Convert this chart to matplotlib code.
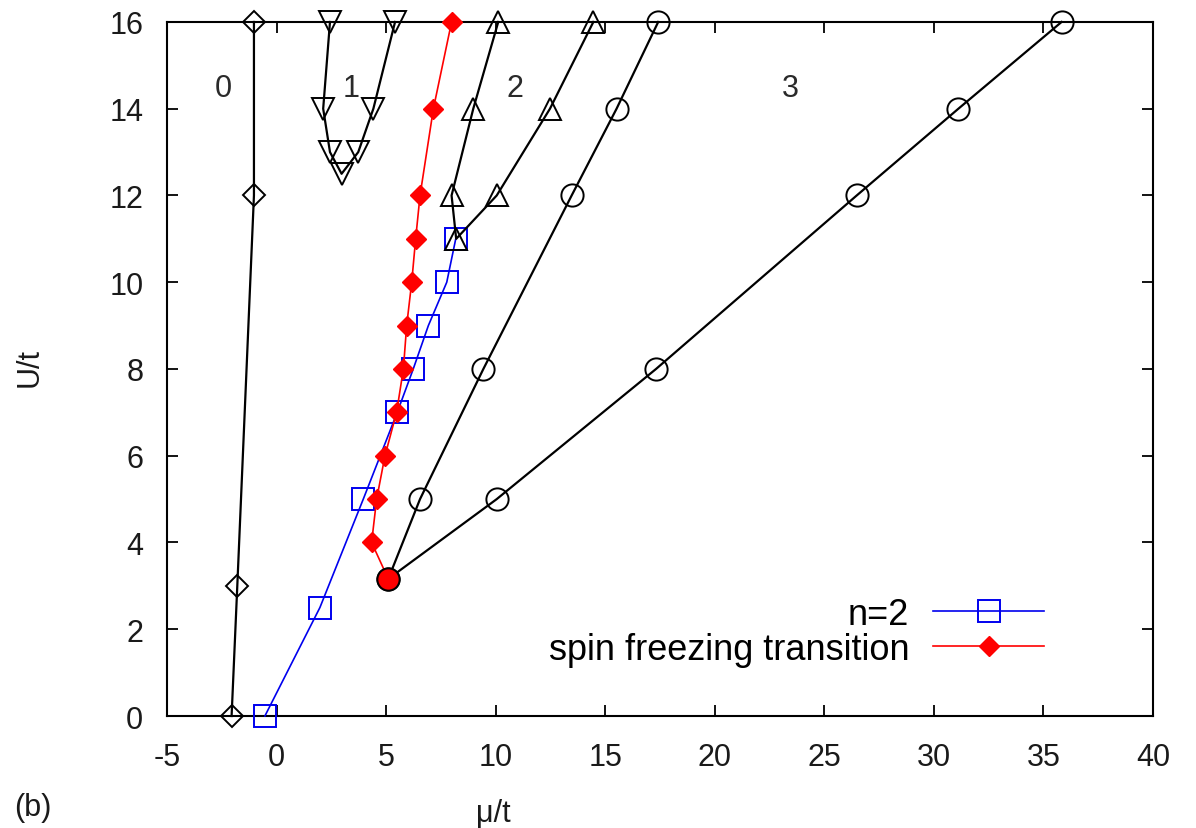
import matplotlib

matplotlib.use("Agg")
import matplotlib.pyplot as plt

plt.rcParams["font.family"] = ["Liberation Sans", "DejaVu Sans"]
plt.rcParams["axes.unicode_minus"] = False

# n=0 boundary (open diamonds)
mu_n0 = [-1.03, -1.03, -1.79, -2.05]
u_n0 = [16, 12, 3, 0]

# n=1 lobe (open down-triangles)
mu_n1 = [2.44, 2.13, 2.44, 2.97, 3.73, 4.42, 5.41]
u_n1 = [16, 14, 13, 12.5, 13, 14, 16]

# n=2 lobe above the blue line (open up-triangles)
mu_n2 = [10.12, 8.98, 7.99, 8.2, 10.05, 12.48, 14.46]
u_n2 = [16, 14, 12, 11, 12, 14, 16]

# n=3 region boundary (open circles)
mu_n3 = [17.42, 15.52, 13.47, 9.44, 6.55, 5.1, 10.05, 17.32, 26.48, 31.12, 35.83]
u_n3 = [16, 14, 12, 8, 5, 3.16, 5, 8, 12, 14, 16]

# n=2 line (blue squares)
mu_sq = [-0.53, 1.98, 3.96, 5.51, 6.24, 6.93, 7.77, 8.18]
u_sq = [0, 2.5, 5, 7, 8, 9, 10, 11]

# spin freezing transition (red filled diamonds)
mu_sf = [7.99, 7.16, 6.55, 6.35, 6.17, 5.94, 5.79, 5.48, 4.95, 4.57, 4.34, 5.1]
u_sf = [16, 14, 12, 11, 10, 9, 8, 7, 6, 5, 4, 3.16]

region_labels = ["0", "1", "2", "3"]
region_mu = [-2.44, 3.40, 10.88, 23.43]
region_u = [14.48, 14.48, 14.48, 14.48]

fig = plt.figure(figsize=(11.96, 8.29), dpi=100)
ax = fig.add_axes([0.1396, 0.1351, 0.8244, 0.8372])

black = dict(color="black", lw=1.6, markerfacecolor="none", markeredgecolor="black",
             markeredgewidth=1.4, clip_on=False)
ax.plot(mu_sq, u_sq, color="#0000ee", lw=1.2, marker="s", ms=16,
        markerfacecolor="none", markeredgecolor="#0000ee", markeredgewidth=1.4,
        clip_on=False, label="n=2", zorder=3)
ax.plot(mu_sf, u_sf, color="red", lw=1.2, marker="D", ms=10, markerfacecolor="red",
        markeredgecolor="red", clip_on=False, label="spin freezing transition", zorder=4)
ax.plot(mu_n0, u_n0, marker="D", ms=11.5, zorder=5, **black)
ax.plot(mu_n1, u_n1, marker="v", ms=16, zorder=5, **black)
ax.plot(mu_n2, u_n2, marker="^", ms=16, zorder=5, **black)
ax.plot(mu_n3, u_n3, marker="o", ms=16, zorder=5, **black)
ax.plot(mu_sf[-1:], u_sf[-1:], ls="none", marker="o", ms=16, markerfacecolor="red",
        markeredgecolor="black", markeredgewidth=1.4, zorder=6, clip_on=False)

for lab, x, y in zip(region_labels, region_mu, region_u):
    ax.text(x, y, lab, fontsize=22, ha="center", va="center", color="#2a2a2a")

ax.set_xlim(-5, 40)
ax.set_ylim(0, 16)
ax.set_xticks(range(-5, 41, 5))
ax.set_yticks(range(0, 17, 2))
ax.tick_params(direction="in", length=8, width=1.3, labelsize=22, top=True, right=True,
               colors="black", labelcolor="#1a1a1a")
ax.tick_params(axis="x", pad=19)
ax.tick_params(axis="y", pad=17)
for spine in ax.spines.values():
    spine.set_linewidth(1.5)

ax.set_xlabel("μ/t", fontsize=22, color="#1a1a1a")
ax.xaxis.set_label_coords(0.331, -0.118)
ax.set_ylabel("U/t", fontsize=22, color="#1a1a1a")
ax.yaxis.set_label_coords(-0.124, 0.503)
fig.text(0.012, 0.0253, "(b)", fontsize=22, ha="left", va="center", color="#1a1a1a")

ax.legend(loc="lower right", bbox_to_anchor=(0.89, 0.0706), frameon=False,
          markerfirst=False, fontsize=26, handlelength=3.1, handletextpad=0.64,
          labelspacing=0.0, borderaxespad=0, borderpad=0)

fig.savefig("out.png", dpi=100)
